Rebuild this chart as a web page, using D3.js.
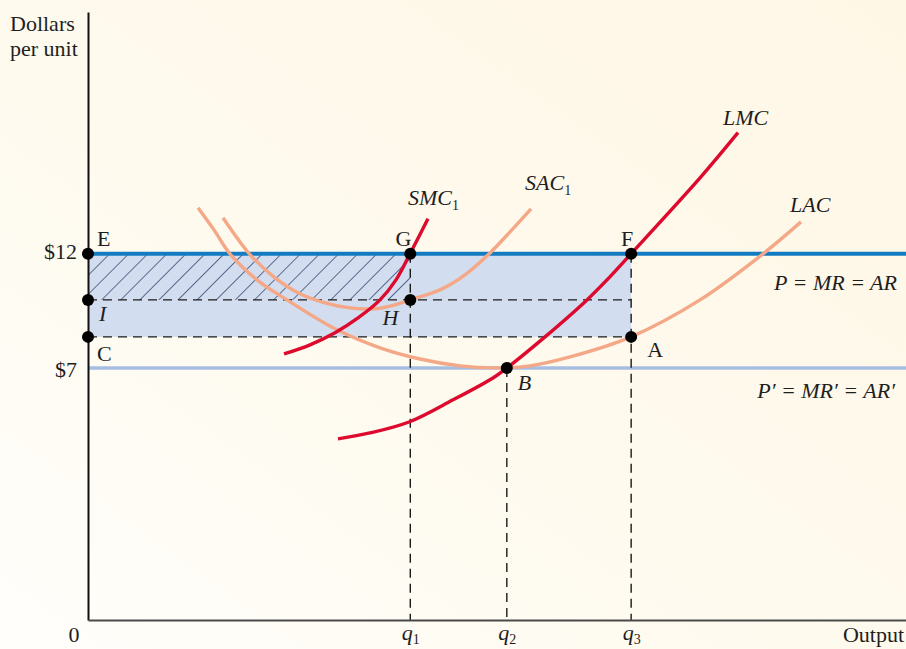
<!DOCTYPE html>
<html>
<head>
<meta charset="utf-8">
<script src="https://cdn.jsdelivr.net/npm/d3@7"></script>
<style>
  html, body { margin: 0; padding: 0; background: #fffcf3; }
  svg { display: block; }
  text { font-family: "Liberation Serif", "DejaVu Serif", serif; fill: #1e1e1e; }
</style>
</head>
<body>
<svg id="chart" width="906" height="649"></svg>
<script>
// ---- Output levels (horizontal axis) ----
const qNames = ["q", "q", "q"];
const qSubs = ["1", "2", "3"];
const qValues = [39.4, 51.2, 66.4];

// ---- Prices (vertical axis) ----
const priceValues = [12, 7];
const priceLabels = ["$12", "$7"];

// Average cost at q1 (point H) and long-run average cost at q3 (point A)
const sacAtQ1 = 9.98;
const lacAtQ3 = 8.36;

// ---- Long-run average cost, LAC ----
const lacQ = [13.45, 15.40, 17.36, 20.66, 24.33, 30.44, 35.70, 40.59, 45.48, 49.76, 54.03, 58.92, 66.38, 74.82, 82.52, 87.16];
const lacC = [14.02, 13.05, 12.00, 10.86, 9.98, 8.67, 7.88, 7.39, 7.09, 7.00, 7.09, 7.48, 8.36, 9.98, 12.00, 13.40];

// ---- Short-run average cost, SAC1 ----
const sacQ = [16.50, 18.22, 20.05, 22.86, 25.92, 28.97, 32.03, 35.09, 37.53, 39.36, 43.03, 46.09, 49.14, 51.59, 54.16];
const sacC = [13.58, 12.70, 11.87, 10.95, 10.25, 9.85, 9.63, 9.59, 9.76, 9.98, 10.42, 11.08, 12.04, 12.96, 13.97];

// ---- Short-run marginal cost, SMC1 ----
const smcQ = [23.96, 27.14, 30.20, 33.01, 35.70, 37.65, 39.36, 41.56];
const smcC = [7.61, 8.01, 8.54, 9.19, 9.98, 10.86, 12.00, 13.54];

// ---- Long-run marginal cost, LMC ----
const lmcQ = [30.56, 34.47, 39.24, 44.62, 49.51, 51.22, 55.87, 61.00, 63.45, 66.38, 74.82, 79.46];
const lmcC = [3.89, 4.15, 4.63, 5.60, 6.56, 7.00, 8.36, 9.98, 10.86, 12.00, 15.33, 17.31];

const W = 906, H = 649;
const FS = 22;
const svg = d3.select("#chart");

// Background wash
const defs = svg.append("defs");
const bg = defs.append("linearGradient").attr("id", "bg")
  .attr("x1", "1").attr("y1", "0").attr("x2", "0").attr("y2", "1");
bg.append("stop").attr("offset", "0%").attr("stop-color", "#fff7e6");
bg.append("stop").attr("offset", "55%").attr("stop-color", "#fefaee");
bg.append("stop").attr("offset", "100%").attr("stop-color", "#fffefb");
svg.append("rect").attr("width", W).attr("height", H).attr("fill", "url(#bg)");

// Diagonal hatching for the profit area
const hatch = defs.append("pattern").attr("id", "hatch")
  .attr("patternUnits", "userSpaceOnUse")
  .attr("width", 13.5).attr("height", 13.5)
  .attr("patternTransform", "rotate(45)");
hatch.append("line").attr("x1", 0).attr("y1", 0).attr("x2", 0).attr("y2", 13.5)
  .attr("stroke", "#1b2a55").attr("stroke-width", 1.3);

// Scales
const x = d3.scaleLinear().domain([0, 100]).range([88, 906]);
const y = d3.scaleLinear().domain([-4.05, 22.6]).range([620, 12]);

const zip = (a, b) => a.map((v, i) => [v, b[i]]);
const line = d3.line().x(d => x(d[0])).y(d => y(d[1])).curve(d3.curveCatmullRom.alpha(0.5));

const P = priceValues[0], P2 = priceValues[1];
const [q1, q2, q3] = qValues;

// Shaded rectangle up to q3
svg.append("rect")
  .attr("x", x(0)).attr("y", y(P))
  .attr("width", x(q3) - x(0)).attr("height", y(lacAtQ3) - y(P))
  .attr("fill", "#d2ddf0");

// Hatched profit area at q1
svg.append("rect")
  .attr("x", x(0)).attr("y", y(P))
  .attr("width", x(q1) - x(0)).attr("height", y(sacAtQ1) - y(P))
  .attr("fill", "url(#hatch)");

// Lower price line P'
svg.append("line")
  .attr("x1", x(0)).attr("x2", W).attr("y1", y(P2)).attr("y2", y(P2))
  .attr("stroke", "#a7bee2").attr("stroke-width", 3.5);

// Dashed guides
const dash = svg.append("g").attr("stroke", "#1a1a1a").attr("stroke-width", 1.4)
  .attr("stroke-dasharray", "9,6").attr("fill", "none");
dash.append("line").attr("x1", x(0)).attr("x2", x(q3)).attr("y1", y(sacAtQ1)).attr("y2", y(sacAtQ1));
dash.append("line").attr("x1", x(0)).attr("x2", x(q3)).attr("y1", y(lacAtQ3)).attr("y2", y(lacAtQ3));
dash.append("line").attr("x1", x(q1)).attr("x2", x(q1)).attr("y1", y(P)).attr("y2", y.range()[0]);
dash.append("line").attr("x1", x(q2)).attr("x2", x(q2)).attr("y1", y(P2)).attr("y2", y.range()[0]);
dash.append("line").attr("x1", x(q3)).attr("x2", x(q3)).attr("y1", y(P)).attr("y2", y.range()[0]);

// Price line P = MR = AR
svg.append("line")
  .attr("x1", x(0)).attr("x2", W).attr("y1", y(P)).attr("y2", y(P))
  .attr("stroke", "#137bc2").attr("stroke-width", 4);

// Axes
const yAxis = svg.append("g").attr("transform", `translate(${x(0)},0)`)
  .call(d3.axisLeft(y).tickValues(priceValues).tickSize(0).tickSizeOuter(0).tickPadding(11)
    .tickFormat((d, i) => priceLabels[i]));
yAxis.select(".domain").attr("stroke", "#111").attr("stroke-width", 2);
yAxis.selectAll(".tick text").attr("font-size", FS).attr("fill", "#1e1e1e")
  .attr("font-family", '"Liberation Serif", "DejaVu Serif", serif')
  .attr("dy", (d, i) => i === 0 ? "0.2em" : "0.4em");

const xAxis = svg.append("g").attr("transform", `translate(0,${y.range()[0]})`)
  .call(d3.axisBottom(x).tickValues(qValues).tickSize(0).tickSizeOuter(0).tickFormat(""));
xAxis.select(".domain").attr("stroke", "#4a4a4a").attr("stroke-width", 2.2);
xAxis.selectAll(".tick").each(function (d, i) {
  const t = d3.select(this).append("text")
    .attr("y", 20).attr("text-anchor", "middle").attr("font-size", FS)
    .attr("font-style", "italic").attr("fill", "#1e1e1e")
    .attr("font-family", '"Liberation Serif", "DejaVu Serif", serif');
  t.append("tspan").text(qNames[i]);
  t.append("tspan").attr("font-size", 14).attr("font-style", "normal").attr("dy", 4).text(qSubs[i]);
});

// Cost curves
const curveStyle = [
  { q: lacQ, c: lacC, color: "#f4a887" },
  { q: sacQ, c: sacC, color: "#f4a887" },
  { q: smcQ, c: smcC, color: "#dd0a2e" },
  { q: lmcQ, c: lmcC, color: "#dd0a2e" }
];
curveStyle.forEach(s => {
  svg.append("path").datum(zip(s.q, s.c))
    .attr("d", line).attr("fill", "none")
    .attr("stroke", s.color).attr("stroke-width", 3.4).attr("stroke-linecap", "butt");
});

// Labelled points
const pts = [
  [0, P], [0, sacAtQ1], [0, lacAtQ3],
  [q1, P], [q1, sacAtQ1], [q3, P], [q3, lacAtQ3], [q2, P2]
];
svg.append("g").selectAll("circle").data(pts).join("circle")
  .attr("cx", d => x(d[0])).attr("cy", d => y(d[1])).attr("r", 6).attr("fill", "#000");

// Text helper
function label(px, py, str, opts = {}) {
  const t = svg.append("text").attr("x", px).attr("y", py)
    .attr("font-size", opts.size || FS)
    .attr("text-anchor", opts.anchor || "start")
    .attr("font-style", opts.italic ? "italic" : "normal");
  if (opts.sub) {
    t.append("tspan").text(str);
    t.append("tspan").attr("font-size", 14).attr("font-style", "normal").attr("dy", 5).text(opts.sub);
  } else {
    t.text(str);
  }
  return t;
}

// Axis titles
label(10, 31, "Dollars");
label(10, 56, "per unit");
label(x(0) - 14, y.range()[0] + 22, "0", { anchor: "middle" });
label(904, y.range()[0] + 22, "Output", { anchor: "end" });

// Point letters
label(x(0) + 9, y(P) - 8, "E");
label(x(0) + 11, y(sacAtQ1) + 21, "I", { italic: true });
label(x(0) + 9, y(lacAtQ3) + 24, "C");
label(x(q1) + 1, y(P) - 8, "G", { anchor: "end" });
label(x(q1) - 12, y(sacAtQ1) + 25, "H", { anchor: "end", italic: true });
label(x(q3) - 4, y(P) - 8, "F", { anchor: "middle" });
label(x(q3) + 16, y(lacAtQ3) + 20, "A");
label(x(q2) + 11, y(P2) + 22, "B", { italic: true });

// Curve names
const endOf = (q, c) => [x(q[q.length - 1]), y(c[c.length - 1])];
let e = endOf(smcQ, smcC); label(e[0] - 20, e[1] - 14, "SMC", { italic: true, sub: "1" });
e = endOf(sacQ, sacC); label(e[0] - 6, e[1] - 19, "SAC", { italic: true, sub: "1" });
e = endOf(lmcQ, lmcC); label(e[0] - 15, e[1] - 8, "LMC", { italic: true });
e = endOf(lacQ, lacC); label(e[0] - 11, e[1] - 10, "LAC", { italic: true });

// Price line names
label(897, y(P) + 36, "P = MR = AR", { anchor: "end", italic: true });
label(895, y(P2) + 30, "P\u2032 = MR\u2032 = AR\u2032", { anchor: "end", italic: true });
</script>
</body>
</html>
